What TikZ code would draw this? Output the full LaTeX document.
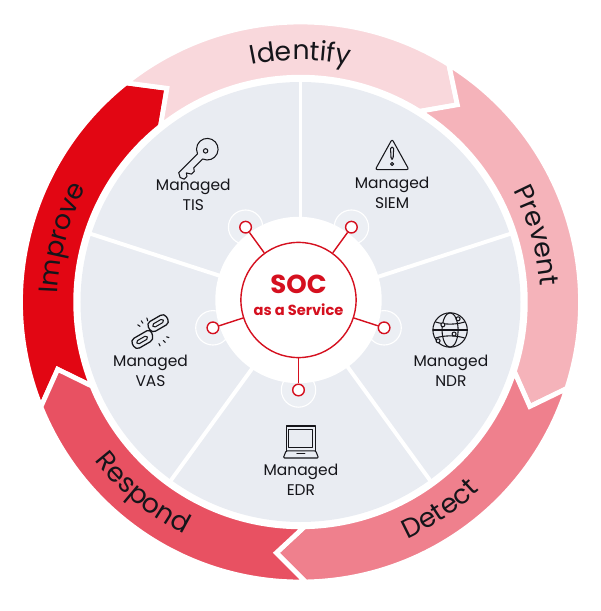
\documentclass[tikz,border=0pt]{standalone}
\usepackage{fontspec}
\setmainfont{Poppins}
\usetikzlibrary{decorations.text}
\definecolor{mred}{HTML}{D5101F}
\definecolor{mink}{HTML}{15151A}
\definecolor{mdisc}{HTML}{E9ECF2}
\definecolor{bandA}{HTML}{F9D8DC}
\definecolor{bandB}{HTML}{F5B3BA}
\definecolor{bandC}{HTML}{EF808D}
\definecolor{bandD}{HTML}{E85162}
\definecolor{bandE}{HTML}{E20613}
\tikzset{
  band/.style = {fill=#1, draw=white, line width=3.4pt, line join=miter},
  spoke/.style = {draw=white, line width=2.8pt},
  pin/.style = {circle, draw=mred, fill=white, line width=1pt, inner sep=0pt, minimum size=0.29cm},
  halo/.style = {draw=white, fill=mdisc!85!white, line width=0.8pt},
  wire/.style = {draw=mred, line width=1pt},
  icon/.style = {draw=mink, line width=0.75pt, line join=round, line cap=round},
  service/.style = {align=center, text=mink, font=\fontsize{11}{14.2}\selectfont, inner sep=0pt},
  hubtext/.style = {text=mred, inner sep=0pt, font=\bfseries},
  onring/.style = {decorate, decoration={text along path, text align=center, text={|\fontsize{19}{19}\selectfont\color{mink}|#1}}}
}

\begin{document}
\begin{tikzpicture}
  \useasboundingbox (-7.4625, -7.775) rectangle (7.5375, 7.5);

  % ring of five arrows
  \begin{scope} [shift={(0.05, -0.05)}]
    \foreach \tail/\head/\shade in {202/128.5/bandE, 128.5/58/bandA, 58/-18/bandB, -18/-89/bandC, 271/202/bandD}
      \draw [band=\shade] (\tail:7.0) arc (\tail:\head:7.0) -- ({\head-6.5}:6.3) -- (\head:5.62) arc (\head:\tail:5.62) -- ({\tail-6.5}:6.3) -- cycle;

    \path [onring=Improve] (189:6.07) arc (189:141:6.07);
    \path [onring=Identify] (114:6.05) arc (114:66:6.05);
    \path [onring=Prevent] (39.7:6.0) arc (39.7:-8.3:6.0);
    \path [onring=Respond] (204.5:6.5) arc (204.5:256.5:6.5);
    \path [onring=Detect] (-80:6.5) arc (-80:-32:6.5);

    % inner disc
    \fill [mdisc] (0, 0) circle (5.5);
    \foreach \a in {90, 18, -54, -126, 162}
      \draw [spoke] (\a:1.9) -- (\a:5.6);
  \end{scope}

  \foreach \a in {54, 126, -18, -90, 198}
    \draw [halo] (\a:2.25) circle (0.43);
  \fill [white] (0, 0) circle (2.08);

  \node [circle, draw=mred, line width=1pt, fill=white, minimum size=2.88cm, inner sep=0pt] (hub) at (0, 0) {};
  \node [hubtext, font=\fontsize{18.5}{20}\selectfont\bfseries] (soc) at (0, 0.38) {SOC};
  \node [hubtext, font=\fontsize{10.4}{13}\selectfont\bfseries] (socsub) at (0, -0.24) {as a Service};

  \foreach \a/\n in {54/siem, 126/tis, -18/ndr, -90/edr, 198/vas} {
    \node [pin] (pin\n) at (\a:2.25) {};
    \draw [wire] (hub) -- (pin\n);
  }

  \node [service] (tis) at (-2.63, 2.63) {Managed\\TIS};
  \node [service] (siem) at (2.34, 2.68) {Managed\\SIEM};
  \node [service] (ndr) at (3.81, -1.77) {Managed\\NDR};
  \node [service] (edr) at (0.06, -4.5) {Managed\\EDR};
  \node [service] (vas) at (-3.7, -1.77) {Managed\\VAS};

  % key
  \begin{scope} [shift={(-2.28, 3.77)}, rotate=225]
    \draw [icon] (20:0.27) arc (20:340:0.27) -- (0.92, -0.09) -- (0.98, 0.02) -- (0.94, 0.12) -- (0.84, 0.12) -- (0.79, 0.05) -- (0.72, 0.16) -- (0.62, 0.16) -- (0.57, 0.09) -- cycle;
    \draw [icon] (0.06, 0) circle (0.055);
  \end{scope}

  % warning sign
  \begin{scope} [shift={(2.34, 3.62)}]
    \draw [icon, rounded corners=1.5pt] (0, 0.4) -- (0.42, -0.36) -- (-0.42, -0.36) -- cycle;
    \draw [icon, rounded corners=1pt] (-0.04, 0.2) -- (0.04, 0.2) -- (0.025, -0.1) -- (-0.025, -0.1) -- cycle;
    \draw [icon] (0, -0.22) circle (0.04);
  \end{scope}

  % globe
  \begin{scope} [shift={(3.79, -0.75)}]
    \draw [icon] (0, 0) circle (0.43);
    \draw [icon] (0, 0) ellipse (0.2 and 0.43);
    \draw [icon] (-0.36, 0.2) .. controls (-0.15, 0.13) and (0.15, 0.13) .. (0.36, 0.2);
    \draw [icon] (-0.36, -0.2) .. controls (-0.15, -0.13) and (0.15, -0.13) .. (0.36, -0.2);
    \draw [icon] (-0.43, 0) -- (0.43, 0);
    \foreach \p in {(-0.18, 0.13), (0.2, 0.28), (0.1, -0.1), (-0.3, -0.27)}
      \draw [icon, fill=mdisc] \p circle (0.05);
  \end{scope}

  % laptop
  \begin{scope} [shift={(0.06, -3.55)}]
    \draw [icon] (-0.37, -0.22) -- (-0.37, 0.4) -- (0.37, 0.4) -- (0.37, -0.22);
    \draw [icon] (-0.3, -0.13) rectangle (0.3, 0.31);
    \draw [icon, rounded corners=0.8pt] (-0.37, -0.22) -- (0.37, -0.22) -- (0.44, -0.4) -- (-0.44, -0.4) -- cycle;
    \draw [icon] (-0.1, -0.29) -- (0.1, -0.29);
  \end{scope}

  % broken chain
  \begin{scope} [shift={(-3.66, -0.82)}]
    \begin{scope} [shift={(0.15, 0.24)}, rotate=30]
      \draw [icon, line width=0.9pt, rounded corners=3pt] (-0.26, -0.14) rectangle (0.26, 0.14);
      \draw [icon, rounded corners=1.2pt] (-0.15, -0.045) rectangle (0.15, 0.045);
    \end{scope}
    \begin{scope} [shift={(-0.25, -0.18)}, rotate=30]
      \draw [icon, line width=0.9pt, rounded corners=3pt] (-0.26, -0.14) -- (0.26, -0.14) -- (0.32, 0.14) -- (-0.26, 0.14) -- cycle;
      \draw [icon, rounded corners=1.2pt] (-0.15, -0.045) rectangle (0.15, 0.045);
    \end{scope}
    \foreach \x/\y/\u/\v in {-0.36/0.2/-0.3/0.16, -0.27/0.3/-0.23/0.24, -0.13/0.37/-0.11/0.3, 0.42/-0.12/0.36/-0.1, 0.33/-0.24/0.28/-0.19, 0.2/-0.33/0.17/-0.27}
      \draw [icon] (\x, \y) -- (\u, \v);
  \end{scope}
\end{tikzpicture}
\end{document}
